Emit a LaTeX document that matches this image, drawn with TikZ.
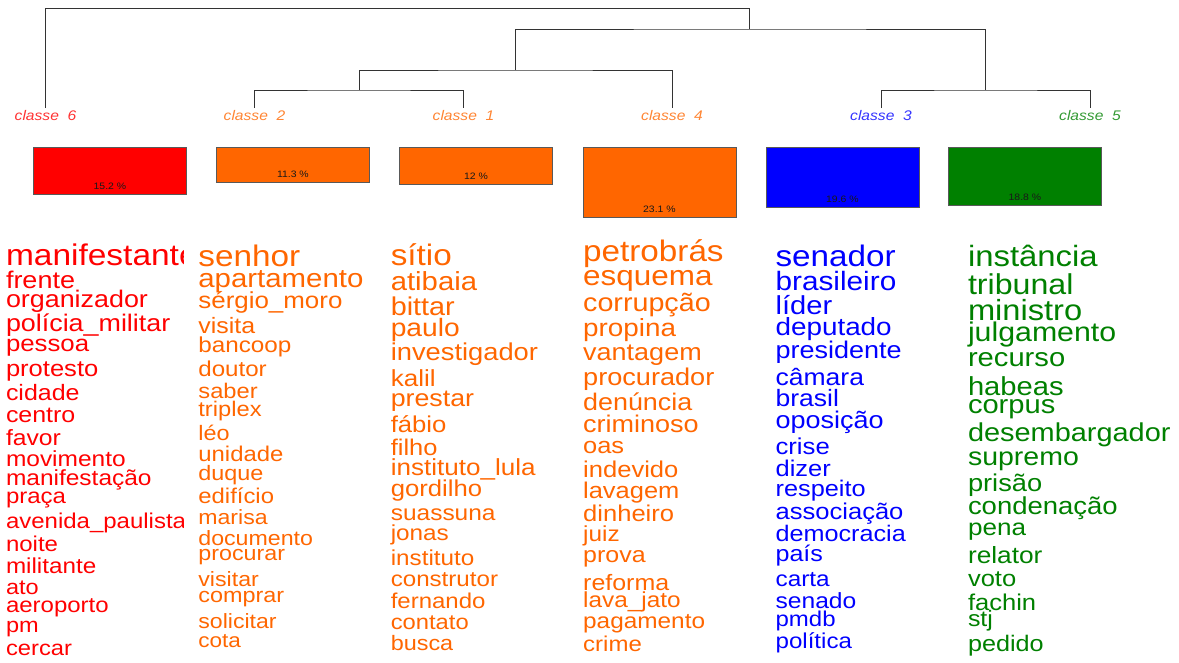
\documentclass[tikz,border=0pt]{standalone}
\usepackage{fontspec}
\setmainfont{Liberation Sans}
\newfontfamily\wf[FakeStretch=1.12]{Liberation Sans}
\definecolor{cred}{HTML}{FF0000}
\definecolor{corg}{HTML}{FF6600}
\definecolor{cblu}{HTML}{0000FF}
\definecolor{cgrn}{HTML}{008000}
\newcommand\fsz[1]{\wf\fontsize{\fpeval{1.0714*#1}}{\fpeval{1.0714*#1}}\selectfont}
\begin{document}
\begin{tikzpicture}[x=1pt,y=-1pt,
  word/.style={anchor=base west, inner sep=0pt, outer sep=0pt},
  wa/.style={word,text=cred}, wb/.style={word,text=corg},
  wc/.style={word,text=cblu}, wd/.style={word,text=cgrn},
  tree/.style={draw=black!80, line width=0.9pt},
  lab/.style={anchor=base, inner sep=0pt, font=\fsz{13}\itshape},
  bar/.style={draw=black!65, line width=0.8pt, anchor=north west, minimum width=153pt, inner sep=0pt},
  pct/.style={inner sep=0pt, font=\fsz{8.7}, text=black!90}]
\useasboundingbox (0,0) rectangle (1179,662);

% ---------- dendrogram ----------
\coordinate (t6) at (45,108);
\coordinate (t2) at (254.5,108);
\coordinate (t1) at (463.5,108);
\coordinate (t4) at (672,108);
\coordinate (t3) at (881,108);
\coordinate (t5) at (1090,108);
\coordinate (R) at (397,8.5);
\coordinate (A) at (749.5,29);
\coordinate (B) at (515,70);
\coordinate (C) at (985.5,90);
\coordinate (D) at (359,90);
\draw[tree] (t6) |- (R) -| (A);
\draw[tree] (B) |- (A) -| (C);
\draw[tree] (D) |- (B) -| (t4);
\draw[tree] (t2) |- (D) -| (t1);
\draw[tree] (t3) |- (C) -| (t5);

% ---------- class labels ----------
\node[lab,text=cred!80!white] (l6) at (45.5,120) {classe\ \ 6};
\node[lab,text=corg!80!white] (l2) at (254.5,120) {classe\ \ 2};
\node[lab,text=corg!80!white] (l1) at (463.5,120) {classe\ \ 1};
\node[lab,text=corg!80!white] (l4) at (672,120) {classe\ \ 4};
\node[lab,text=cblu!80!white] (l3) at (881,120) {classe\ \ 3};
\node[lab,text=cgrn!80!white] (l5) at (1090,120) {classe\ \ 5};

% ---------- bars ----------
\node[bar,fill=cred,minimum height=47pt] (b6) at (33,147) {};
\node[bar,fill=corg,minimum height=34.5pt] (b2) at (216,147) {};
\node[bar,fill=corg,minimum height=37pt] (b1) at (399,147) {};
\node[bar,fill=corg,minimum height=70pt] (b4) at (582.5,147) {};
\node[bar,fill=cblu,minimum height=60pt] (b3) at (765.5,147) {};
\node[bar,fill=cgrn,minimum height=58pt] (b5) at (948,147) {};
\node[pct] (p6) at ([yshift=8.5pt]b6.south) {15.2 \%};
\node[pct] (p2) at ([yshift=8.5pt]b2.south) {11.3 \%};
\node[pct] (p1) at ([yshift=8.5pt]b1.south) {12 \%};
\node[pct] (p4) at ([yshift=8.5pt]b4.south) {23.1 \%};
\node[pct] (p3) at ([yshift=8.5pt]b3.south) {19.6 \%};
\node[pct] (p5) at ([yshift=8.5pt]b5.south) {18.8 \%};

% ---------- column: classe 6 ----------
\begin{scope}
\clip (0,225) rectangle (183,662);
\node[wa,font=\fsz{27.9}] (a1) at (6,265.5) {manifestante};
\node[wa,font=\fsz{22.5}] (a2) at (6,288.3) {frente};
\node[wa,font=\fsz{22.4}] (a3) at (6,307.5) {organizador};
\node[wa,font=\fsz{22.4}] (a4) at (6,331) {polícia\_militar};
\node[wa,font=\fsz{21.5}] (a5) at (6,351.7) {pessoa};
\node[wa,font=\fsz{21.3}] (a6) at (6,376.7) {protesto};
\node[wa,font=\fsz{20.8}] (a7) at (6,400.7) {cidade};
\node[wa,font=\fsz{20.8}] (a8) at (6,422.7) {centro};
\node[wa,font=\fsz{20.6}] (a9) at (6,445) {favor};
\node[wa,font=\fsz{20.4}] (a10) at (6,466) {movimento};
\node[wa,font=\fsz{20.4}] (a11) at (6,485) {manifestação};
\node[wa,font=\fsz{20}] (a12) at (6,503.3) {praça};
\node[wa,font=\fsz{20}] (a13) at (6,528.3) {avenida\_paulista};
\node[wa,font=\fsz{20}] (a14) at (6,551.7) {noite};
\node[wa,font=\fsz{20.2}] (a15) at (6,573.3) {militante};
\node[wa,font=\fsz{19.6}] (a16) at (6,594) {ato};
\node[wa,font=\fsz{20}] (a17) at (6,612.7) {aeroporto};
\node[wa,font=\fsz{19.6}] (a18) at (6,632.7) {pm};
\node[wa,font=\fsz{19.8}] (a19) at (6,655) {cercar};
\end{scope}

% ---------- column: classe 2 ----------
\node[wb,font=\fsz{27.75}] (b1w) at (198.4,266) {senhor};
\node[wb,font=\fsz{24.5}] (b2w) at (198.4,287.3) {apartamento};
\node[wb,font=\fsz{21.6}] (b3w) at (198.4,308.3) {sérgio\_moro};
\node[wb,font=\fsz{20.75}] (b4w) at (198.4,333.3) {visita};
\node[wb,font=\fsz{20.2}] (b5w) at (198.4,352.3) {bancoop};
\node[wb,font=\fsz{20.1}] (b6w) at (198.4,376.7) {doutor};
\node[wb,font=\fsz{19.75}] (b7w) at (198.4,398.3) {saber};
\node[wb,font=\fsz{19.75}] (b8w) at (198.4,416.7) {triplex};
\node[wb,font=\fsz{19.5}] (b9w) at (198.4,440) {léo};
\node[wb,font=\fsz{19.9}] (b10w) at (198.4,461.7) {unidade};
\node[wb,font=\fsz{19.5}] (b11w) at (198.4,480) {duque};
\node[wb,font=\fsz{19.9}] (b12w) at (198.4,503.3) {edifício};
\node[wb,font=\fsz{19.25}] (b13w) at (198.4,524) {marisa};
\node[wb,font=\fsz{19.3}] (b14w) at (198.4,545) {documento};
\node[wb,font=\fsz{19.4}] (b15w) at (198.4,560.7) {procurar};
\node[wb,font=\fsz{19.3}] (b16w) at (198.4,586.7) {visitar};
\node[wb,font=\fsz{19.5}] (b17w) at (198.4,602.3) {comprar};
\node[wb,font=\fsz{19.25}] (b18w) at (198.4,628.3) {solicitar};
\node[wb,font=\fsz{18.8}] (b19w) at (198.4,647.3) {cota};

% ---------- column: classe 1 ----------
\node[wb,font=\fsz{27.7}] (c1w) at (390.8,265) {sítio};
\node[wb,font=\fsz{24.4}] (c2w) at (390.8,290) {atibaia};
\node[wb,font=\fsz{24}] (c3w) at (390.8,315) {bittar};
\node[wb,font=\fsz{23.5}] (c4w) at (390.8,336.7) {paulo};
\node[wb,font=\fsz{22.75}] (c5w) at (390.8,360) {investigador};
\node[wb,font=\fsz{21.7}] (c6w) at (390.8,386.7) {kalil};
\node[wb,font=\fsz{22.3}] (c7w) at (390.8,406.7) {prestar};
\node[wb,font=\fsz{21.4}] (c8w) at (390.8,432.3) {fábio};
\node[wb,font=\fsz{21.2}] (c9w) at (390.8,455) {filho};
\node[wb,font=\fsz{21.7}] (c10w) at (390.8,475) {instituto\_lula};
\node[wb,font=\fsz{21.4}] (c11w) at (390.8,496.7) {gordilho};
\node[wb,font=\fsz{20.4}] (c12w) at (390.8,520) {suassuna};
\node[wb,font=\fsz{20.25}] (c13w) at (390.8,540.7) {jonas};
\node[wb,font=\fsz{20.2}] (c14w) at (390.8,565) {instituto};
\node[wb,font=\fsz{20.1}] (c15w) at (390.8,586.7) {construtor};
\node[wb,font=\fsz{20}] (c16w) at (390.8,608.3) {fernando};
\node[wb,font=\fsz{19.8}] (c17w) at (390.8,629.3) {contato};
\node[wb,font=\fsz{19.5}] (c18w) at (390.8,650) {busca};

% ---------- column: classe 4 ----------
\node[wb,font=\fsz{27.7}] (d1w) at (583.2,261.7) {petrobrás};
\node[wb,font=\fsz{26.2}] (d2w) at (583.2,285) {esquema};
\node[wb,font=\fsz{23.9}] (d3w) at (583.2,311.7) {corrupção};
\node[wb,font=\fsz{23.2}] (d4w) at (583.2,336.7) {propina};
\node[wb,font=\fsz{22.5}] (d5w) at (583.2,360) {vantagem};
\node[wb,font=\fsz{22.6}] (d6w) at (583.2,385) {procurador};
\node[wb,font=\fsz{22.4}] (d7w) at (583.2,410) {denúncia};
\node[wb,font=\fsz{22.5}] (d8w) at (583.2,432.7) {criminoso};
\node[wb,font=\fsz{21.2}] (d9w) at (583.2,453.3) {oas};
\node[wb,font=\fsz{21.3}] (d10w) at (583.2,477.3) {indevido};
\node[wb,font=\fsz{21.2}] (d11w) at (583.2,498.3) {lavagem};
\node[wb,font=\fsz{21.3}] (d12w) at (583.2,521.7) {dinheiro};
\node[wb,font=\fsz{20.3}] (d13w) at (583.2,541.7) {juiz};
\node[wb,font=\fsz{20.8}] (d14w) at (583.2,562.7) {prova};
\node[wb,font=\fsz{20.8}] (d15w) at (583.2,590) {reforma};
\node[wb,font=\fsz{20.3}] (d16w) at (583.2,607.3) {lava\_jato};
\node[wb,font=\fsz{20.3}] (d17w) at (583.2,628.3) {pagamento};
\node[wb,font=\fsz{20}] (d18w) at (583.2,651.7) {crime};

% ---------- column: classe 3 ----------
\node[wc,font=\fsz{27.7}] (e1w) at (775.6,266) {senador};
\node[wc,font=\fsz{24.8}] (e2w) at (775.6,290) {brasileiro};
\node[wc,font=\fsz{24.25}] (e3w) at (775.6,314) {líder};
\node[wc,font=\fsz{23.2}] (e4w) at (775.6,335) {deputado};
\node[wc,font=\fsz{22.5}] (e5w) at (775.6,358.3) {presidente};
\node[wc,font=\fsz{22.1}] (e6w) at (775.6,385) {câmara};
\node[wc,font=\fsz{22.1}] (e7w) at (775.6,406) {brasil};
\node[wc,font=\fsz{22.5}] (e8w) at (775.6,428.3) {oposição};
\node[wc,font=\fsz{21.4}] (e9w) at (775.6,454) {crise};
\node[wc,font=\fsz{21.2}] (e10w) at (775.6,476) {dizer};
\node[wc,font=\fsz{21.1}] (e11w) at (775.6,496.7) {respeito};
\node[wc,font=\fsz{21.3}] (e12w) at (775.6,519) {associação};
\node[wc,font=\fsz{21}] (e13w) at (775.6,541.7) {democracia};
\node[wc,font=\fsz{20.9}] (e14w) at (775.6,561.7) {país};
\node[wc,font=\fsz{20.3}] (e15w) at (775.6,586.7) {carta};
\node[wc,font=\fsz{20.5}] (e16w) at (775.6,608.3) {senado};
\node[wc,font=\fsz{20}] (e17w) at (775.6,626.7) {pmdb};
\node[wc,font=\fsz{20.1}] (e18w) at (775.6,648.3) {política};

% ---------- column: classe 5 ----------
\node[wd,font=\fsz{27.4}] (f1w) at (968,266.5) {instância};
\node[wd,font=\fsz{26.8}] (f2w) at (968,294.5) {tribunal};
\node[wd,font=\fsz{27.2}] (f3w) at (968,320.7) {ministro};
\node[wd,font=\fsz{25.25}] (f4w) at (968,341.7) {julgamento};
\node[wd,font=\fsz{24.3}] (f5w) at (968,366.7) {recurso};
\node[wd,font=\fsz{24.3}] (f6w) at (968,395) {habeas};
\node[wd,font=\fsz{24.25}] (f7w) at (968,413.3) {corpus};
\node[wd,font=\fsz{24.1}] (f8w) at (968,441.7) {desembargador};
\node[wd,font=\fsz{23.75}] (f9w) at (968,465) {supremo};
\node[wd,font=\fsz{22.7}] (f10w) at (968,491.7) {prisão};
\node[wd,font=\fsz{22.9}] (f11w) at (968,514) {condenação};
\node[wd,font=\fsz{21.75}] (f12w) at (968,535) {pena};
\node[wd,font=\fsz{21.9}] (f13w) at (968,563.3) {relator};
\node[wd,font=\fsz{21.3}] (f14w) at (968,586.7) {voto};
\node[wd,font=\fsz{21.3}] (f15w) at (968,610) {fachin};
\node[wd,font=\fsz{20.8}] (f16w) at (968,626.7) {stj};
\node[wd,font=\fsz{21}] (f17w) at (968,651.7) {pedido};
\end{tikzpicture}
\end{document}
